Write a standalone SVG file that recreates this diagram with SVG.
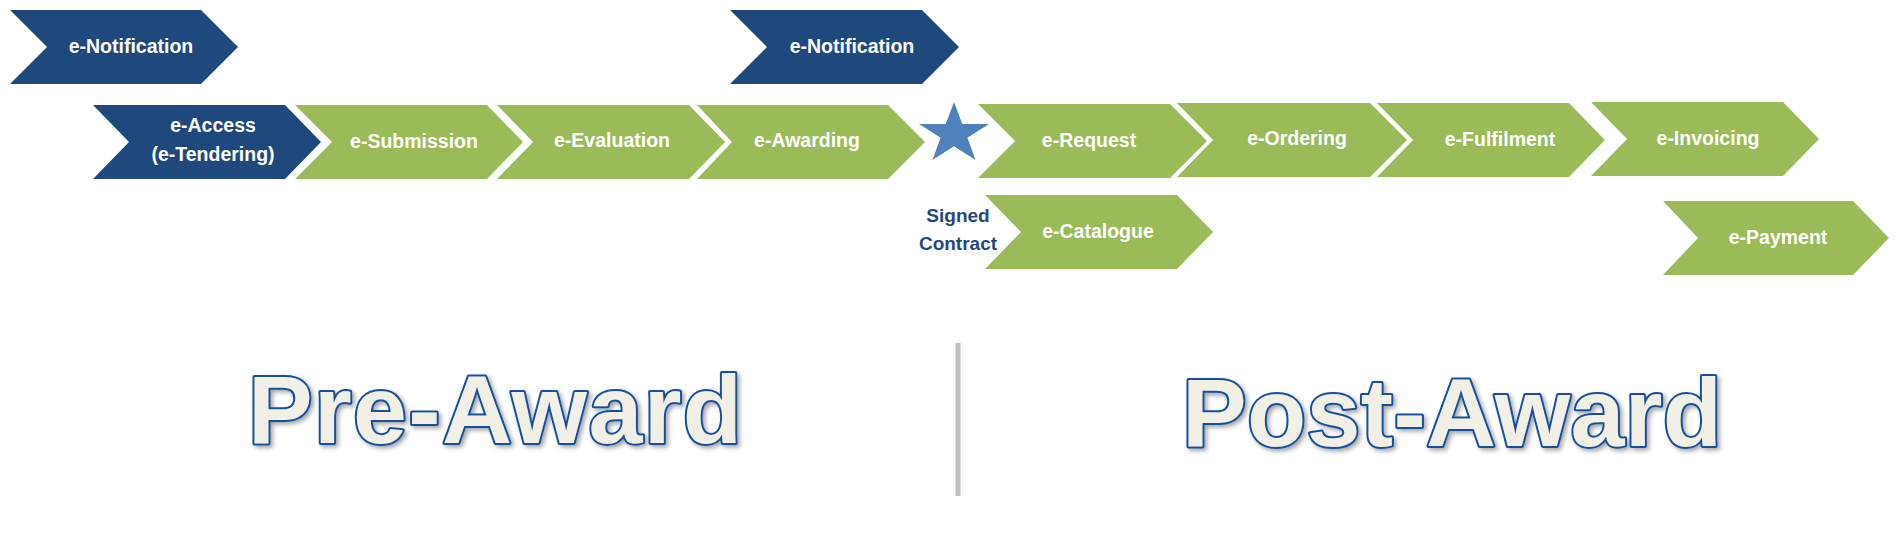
<svg xmlns="http://www.w3.org/2000/svg" width="1896" height="551" viewBox="0 0 1896 551">
<style>
.navy{fill:#1F497D}
.green{fill:#9BBB59}
.lbl{font-family:"Liberation Sans",Arial,sans-serif;font-weight:bold;font-size:19.5px;fill:#FFFFFF;text-anchor:middle}
.sc{font-family:"Liberation Sans",Arial,sans-serif;font-weight:bold;font-size:19px;fill:#1F497D;text-anchor:middle}
.big{font-family:"Liberation Sans",Arial,sans-serif;font-weight:bold;font-size:97px;fill:#F2EFE4;stroke:#15509E;stroke-width:4px;paint-order:stroke;stroke-linejoin:round}
</style>
<defs>
<filter id="sh" x="-5%" y="-10%" width="115%" height="130%">
<feDropShadow dx="2.5" dy="2.5" stdDeviation="2" flood-color="#000" flood-opacity="0.35"/>
</filter>
</defs>
<rect width="1896" height="551" fill="#FFFFFF"/>
<g id="connectors"></g>
<g id="n-notification-1"><polygon class="navy" points="10,10 201,10 238,47 201,84 10,84 47,47"/><text class="lbl" x="131" y="53">e-Notification</text></g>
<g id="n-notification-2"><polygon class="navy" points="730,10 922,10 959,47 922,84 730,84 767,47"/><text class="lbl" x="852" y="53">e-Notification</text></g>
<g id="n-access"><polygon class="navy" points="93,105 285,105 321,142 285,179 93,179 129,142"/><text class="lbl" x="213" y="132">e-Access</text><text class="lbl" x="213" y="161">(e-Tendering)</text></g>
<g id="n-submission"><polygon class="green" points="295,105 487,105 523,142 487,179 295,179 332,142"/><text class="lbl" x="414" y="148">e-Submission</text></g>
<g id="n-evaluation"><polygon class="green" points="497,105 689,105 725,142 689,179 497,179 533,142"/><text class="lbl" x="612" y="147">e-Evaluation</text></g>
<g id="n-awarding"><polygon class="green" points="697,105 888,105 925,142 888,179 697,179 732,142"/><text class="lbl" x="807" y="147">e-Awarding</text></g>
<g id="n-star"><polygon fill="#4F81BD" points="954,102 962.3,124.1 989,124.1 967.4,137.8 975.6,160 954,146.2 932.4,160 940.6,137.8 919,124.1 945.7,124.1"/></g>
<g id="n-signed-contract"><text class="sc" x="958" y="222">Signed</text><text class="sc" x="958" y="250">Contract</text></g>
<g id="n-request"><polygon class="green" points="978,104 1170,104 1207,141 1170,178 978,178 1015,141"/><text class="lbl" x="1089" y="147">e-Request</text></g>
<g id="n-ordering"><polygon class="green" points="1177,103 1370,103 1407,140 1370,177 1177,177 1213,140"/><text class="lbl" x="1297" y="145">e-Ordering</text></g>
<g id="n-fulfilment"><polygon class="green" points="1377,103 1569,103 1605,140 1569,177 1377,177 1413,140"/><text class="lbl" x="1500" y="146">e-Fulfilment</text></g>
<g id="n-invoicing"><polygon class="green" points="1591,102 1783,102 1819,139 1783,176 1591,176 1627,139"/><text class="lbl" x="1708" y="145">e-Invoicing</text></g>
<g id="n-catalogue"><polygon class="green" points="985,195 1177,195 1213,232 1177,269 985,269 1021,232"/><text class="lbl" x="1098" y="238">e-Catalogue</text></g>
<g id="n-payment"><polygon class="green" points="1663,201 1853,201 1889,238 1853,275 1663,275 1698,238"/><text class="lbl" x="1778" y="244">e-Payment</text></g>
<g id="divider"><rect x="955.5" y="343" width="5" height="153" fill="#BFBFBF"/></g>
<g id="pre-award" filter="url(#sh)"><text class="big" x="248" y="443" textLength="494" lengthAdjust="spacing">Pre-Award</text></g>
<g id="post-award" filter="url(#sh)"><text class="big" x="1182" y="446" textLength="540" lengthAdjust="spacing">Post-Award</text></g>
</svg>
